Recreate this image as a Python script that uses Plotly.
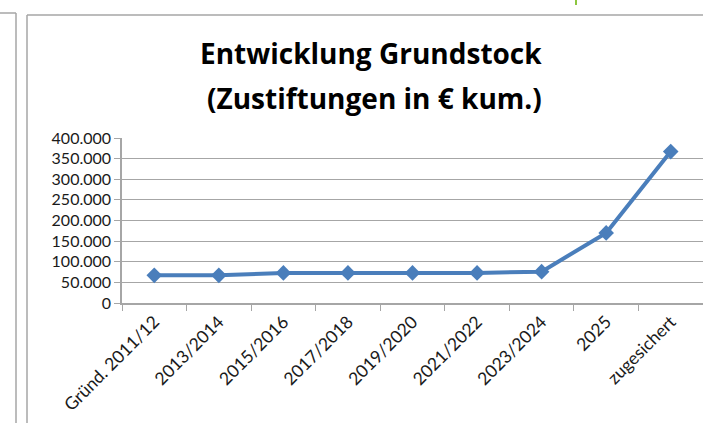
import plotly.graph_objects as go

categories = ["Gründ. 2011/12", "2013/2014", "2015/2016", "2017/2018", "2019/2020",
              "2021/2022", "2023/2024", "2025", "zugesichert"]
values = [67000, 67000, 73000, 73000, 73000, 73000, 76000, 170000, 367000]
y_ticks = [0, 50000, 100000, 150000, 200000, 250000, 300000, 350000, 400000]
y_tick_labels = ["0", "50.000", "100.000", "150.000", "200.000", "250.000",
                 "300.000", "350.000", "400.000"]
title_lines = ["Entwicklung Grundstock", "(Zustiftungen in € kum.)"]

W, H = 703, 423
L, R, T, B = 122, 0, 138, 120
pw, ph = W - L - R, H - T - B

def px(x):
    return (x - L) / pw

def py(y):
    return (H - B - y) / ph

fig = go.Figure()
fig.add_trace(go.Scatter(
    x=categories, y=values, mode="lines+markers",
    line=dict(color="#4a7ebb", width=4),
    marker=dict(symbol="diamond", size=12, color="#4a7ebb"),
    showlegend=False,
))

grey = "#a6a6a6"
shapes = [
    dict(type="line", xref="paper", yref="paper", x0=px(27), x1=px(703), y0=py(15), y1=py(15),
         line=dict(color=grey, width=1.5)),
    dict(type="line", xref="paper", yref="paper", x0=px(27), x1=px(27), y0=py(15), y1=py(423),
         line=dict(color=grey, width=1.5)),
    dict(type="line", xref="paper", yref="paper", x0=px(0), x1=px(16), y0=py(13), y1=py(13),
         line=dict(color=grey, width=1.5)),
    dict(type="line", xref="paper", yref="paper", x0=px(16), x1=px(16), y0=py(13), y1=py(423),
         line=dict(color=grey, width=1.5)),
    dict(type="line", xref="paper", yref="paper", x0=px(576), x1=px(576), y0=py(0), y1=py(5),
         line=dict(color="#8cc63f", width=2)),
]

annotations = [
    dict(text="<b>%s</b>" % title_lines[0], xref="paper", yref="paper",
         x=px(371), y=py(53), xanchor="center", yanchor="middle", showarrow=False,
         font=dict(family="Open Sans", size=28, color="#000000")),
    dict(text="<b>%s</b>" % title_lines[1], xref="paper", yref="paper",
         x=px(374), y=py(98), xanchor="center", yanchor="middle", showarrow=False,
         font=dict(family="Open Sans", size=28, color="#000000")),
]

fig.update_layout(
    width=W, height=H,
    margin=dict(l=L, r=R, t=T, b=B),
    paper_bgcolor="white", plot_bgcolor="white",
    font=dict(family="Lato", size=16, color="#1a1a1a"),
    shapes=shapes,
    annotations=annotations,
    xaxis=dict(
        type="category", tickangle=-45, tickson="boundaries",
        ticks="outside", ticklen=6, tickcolor=grey,
        showline=True, linecolor=grey, linewidth=1.5,
        showgrid=False, tickfont=dict(size=17.5),
        range=[-0.5, len(categories) - 0.5],
    ),
    yaxis=dict(
        range=[0, 400000], tickvals=y_ticks, ticktext=y_tick_labels,
        ticks="outside", ticklen=6, tickcolor=grey,
        showline=True, linecolor=grey, linewidth=1.5,
        showgrid=True, gridcolor=grey, gridwidth=1.2,
        zeroline=False, tickfont=dict(size=16),
    ),
)

fig.write_html("out.html", config={"displayModeBar": False},
               post_script="document.body.style.margin='0';")
